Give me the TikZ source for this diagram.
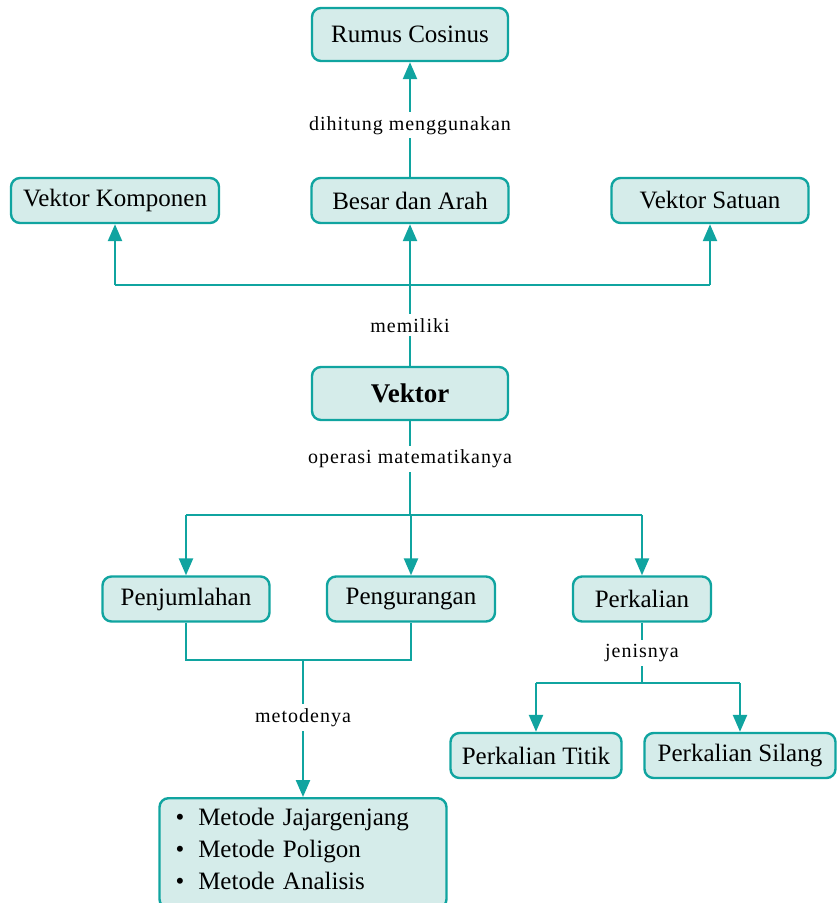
\documentclass[tikz,border=0pt]{standalone}
\usepackage{fontspec}
\setmainfont{Liberation Serif}
\newfontfamily\ketfont[LetterSpace=5]{Liberation Serif}
\usetikzlibrary{arrows.meta}
\definecolor{tosca}{RGB}{16,164,160}
\definecolor{toscamuda}{RGB}{213,236,234}
\tikzset{
  kotak/.style={draw=tosca, fill=toscamuda, line width=2.4pt, rounded corners=9pt,
    minimum height=45pt, inner xsep=6pt, font=\fontsize{25}{29}\selectfont},
  garis/.style={draw=tosca, line width=2.4pt},
  panah/.style={garis, -{Triangle[width=14pt,length=17pt]}},
  ket/.style={fill=white, inner sep=4pt, font=\ketfont\fontsize{20}{24}\selectfont},
}
\begin{document}
\begin{tikzpicture}[x=1pt,y=-1pt]
  \useasboundingbox (0,0) rectangle (837,903);
  \node[kotak, minimum width=196pt, minimum height=53pt] (rumus) at (410,34.5) {Rumus Cosinus};
  \node[kotak, minimum width=208pt] (komponen) at (115,200.5) {Vektor Komponen};
  \node[kotak, minimum width=197pt] (besar) at (410,200.5) {Besar dan Arah};
  \node[kotak, minimum width=197pt] (satuan) at (710,200.5) {Vektor Satuan};
  \node[kotak, minimum width=196pt, minimum height=53pt,
    font=\fontsize{27}{31}\selectfont\bfseries] (vektor) at (410,393.5) {Vektor};
  \node[kotak, minimum width=167pt] (jumlah) at (186,599) {Penjumlahan};
  \node[kotak, minimum width=168pt] (kurang) at (411,599) {Pengurangan};
  \node[kotak, minimum width=138pt] (kali) at (642,599) {Perkalian};
  \node[kotak, minimum width=171pt] (titik) at (536,755.5) {Perkalian Titik};
  \node[kotak, anchor=north, minimum width=287pt, inner xsep=16pt, inner ysep=7pt,
    text width=255pt, align=left] (metode) at (303,797)
    {\begin{tabular}{@{}l@{\hspace{14pt}}l@{}}
      \textbullet & Metode Jajargenjang\\[3pt]
      \textbullet & Metode Poligon\\[3pt]
      \textbullet & Metode Analisis\\[3pt]
    \end{tabular}};
  \node[kotak, minimum width=191pt] (silang) at (740,755.5) {Perkalian Silang};

  \coordinate (cabang1) at (410,285);
  \coordinate (cabang2) at (410,515);
  \coordinate (cabang3) at (303,660);
  \coordinate (cabang4) at (642,683);

  \draw[panah] (besar.north) -- (rumus.south) node[ket,pos=0.45] {dihitung menggunakan};
  \draw[garis] (vektor.north) -- (cabang1) node[ket,midway] {memiliki};
  \draw[garis] (komponen.south |- cabang1) -- (satuan.south |- cabang1);
  \foreach \n in {komponen,besar,satuan}
    \draw[panah] (\n.south |- cabang1) -- (\n.south);

  \draw[garis] (vektor.south) -- (cabang2) node[ket,pos=0.4] {operasi matematikanya};
  \draw[garis] (jumlah.north |- cabang2) -- (kali.north |- cabang2);
  \foreach \n in {jumlah,kurang,kali}
    \draw[panah] (\n.north |- cabang2) -- (\n.north);

  \draw[garis] (jumlah.south) -- (jumlah.south |- cabang3) -- (kurang.south |- cabang3) -- (kurang.south);
  \draw[panah] (cabang3) -- (metode.north) node[ket,pos=0.42] {metodenya};

  \draw[garis] (kali.south) -- (cabang4) node[ket,midway] {jenisnya};
  \draw[garis] (titik.north |- cabang4) -- (silang.north |- cabang4);
  \foreach \n in {titik,silang}
    \draw[panah] (\n.north |- cabang4) -- (\n.north);
\end{tikzpicture}
\end{document}
